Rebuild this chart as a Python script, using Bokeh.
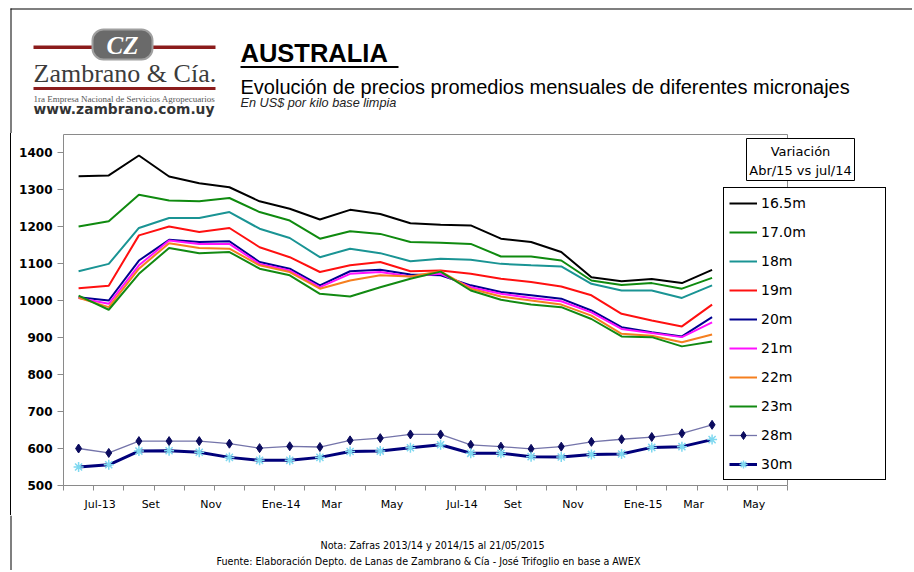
from bokeh.plotting import figure
from bokeh.layouts import row, column
from bokeh.models import (Range1d, FixedTicker, CustomJSTickFormatter, Label,
                          BoxAnnotation, Legend, LegendItem, Div)
from bokeh.embed import file_html
from bokeh.resources import INLINE

# ---------------- data ----------------
months = ["Jul-13", "Ago-13", "Set-13", "Oct-13", "Nov-13", "Dic-13", "Ene-14", "Feb-14",
          "Mar-14", "Abr-14", "May-14", "Jun-14", "Jul-14", "Ago-14", "Set-14", "Oct-14",
          "Nov-14", "Dic-14", "Ene-15", "Feb-15", "Mar-15", "Abr-15"]
tick_labels = ["Jul-13", "Set", "Nov", "Ene-14", "Mar", "May",
               "Jul-14", "Set", "Nov", "Ene-15", "Mar", "May"]
y_ticks = [500, 600, 700, 800, 900, 1000, 1100, 1200, 1300, 1400]

s16_5 = [1336, 1338, 1392, 1335, 1317, 1306, 1268, 1248, 1219, 1245, 1234,
         1209, 1205, 1203, 1167, 1158, 1131, 1063, 1052, 1058, 1047, 1083]
s17_0 = [1200, 1214, 1286, 1270, 1268, 1277, 1239, 1216, 1167, 1187, 1180,
         1158, 1156, 1153, 1119, 1119, 1108, 1054, 1042, 1047, 1032, 1061]
s18 = [1079, 1099, 1196, 1223, 1223, 1239, 1194, 1169, 1117, 1140, 1128,
       1106, 1113, 1110, 1099, 1095, 1092, 1045, 1027, 1027, 1007, 1041]
s19 = [1033, 1040, 1176, 1200, 1185, 1196, 1144, 1117, 1077, 1095, 1104,
       1079, 1081, 1072, 1059, 1050, 1038, 1014, 964, 946, 930, 989]
s20 = [1009, 1000, 1108, 1164, 1158, 1160, 1104, 1086, 1041, 1079, 1083,
       1070, 1068, 1041, 1023, 1014, 1005, 973, 928, 914, 903, 955]
s21 = [1007, 991, 1095, 1162, 1153, 1153, 1099, 1081, 1036, 1072, 1077,
       1065, 1072, 1036, 1018, 1007, 998, 968, 923, 912, 901, 941]
s22 = [1007, 982, 1086, 1155, 1142, 1140, 1095, 1077, 1032, 1054, 1068,
       1065, 1079, 1032, 1011, 1000, 989, 959, 910, 905, 887, 908]
s23 = [1013, 975, 1072, 1142, 1128, 1131, 1086, 1068, 1018, 1011, 1036,
       1059, 1078, 1027, 1002, 989, 982, 950, 903, 901, 876, 889]
s28 = [600, 588, 620, 620, 620, 613, 601, 606, 604, 622, 628,
       638, 638, 610, 605, 599, 605, 618, 625, 631, 641, 664]
s30 = [550, 556, 593, 594, 590, 576, 568, 568, 576, 592, 593,
       602, 610, 587, 587, 578, 577, 584, 585, 603, 605, 624]

names = ["16.5m", "17.0m", "18m", "19m", "20m", "21m", "22m", "23m", "28m", "30m"]
variation = ["-10.1%", "-8.1%", "-6.2%", "-8.4%", "-10.3%", "-12.1%", "-15.5%",
             "-17.3%", "+3.9%", "+2.6%"]

FONT = "DejaVu Sans"


def add_label(fig, x, y, text, **kw):
    opts = dict(x=x, y=y, text=text, text_font=FONT, text_font_size="12px",
                text_color="black", text_align="left", text_baseline="middle")
    opts.update(kw)
    fig.add_layout(Label(**opts))


def add_box(fig, l, r, t, b, **kw):
    opts = dict(left=l, right=r, top=t, bottom=b, fill_alpha=1, line_alpha=1,
                fill_color=None, line_color=None)
    opts.update(kw)
    fig.add_layout(BoxAnnotation(**opts))


def deco_fig(w, h, x0, x1, y0, y1):
    f = figure(width=w, height=h, output_backend="svg", toolbar_location=None,
               x_range=Range1d(x0, x1), y_range=Range1d(y1, y0),
               x_axis_location=None, y_axis_location=None, min_border=0)
    f.outline_line_color = None
    f.grid.visible = False
    f.background_fill_color = "white"
    f.border_fill_color = "white"
    return f


# ---------------- header (page x 0..912, y 0..133) ----------------
head = deco_fig(912, 133, 0, 912, 0, 133)
add_box(head, 10, 912, 8, 9, fill_color="black")
add_box(head, 10, 11, 8, 133, fill_color="black")
# logo
add_box(head, 33, 92, 45, 48.5, fill_color="#8b1c1c")
add_box(head, 152, 215, 45, 48.5, fill_color="#8b1c1c")
add_box(head, 92, 152, 29, 59, fill_color="#6a6a6a", line_color="#a0a0a0",
        line_width=2, border_radius=11)
add_label(head, 122, 44.5, "CZ", text_align="center", text_color="white",
          text_font="Liberation Serif", text_font_size="25px",
          text_font_style="bold italic")
add_label(head, 33, 72.7, "Zambrano & Cía.", text_font="Liberation Serif",
          text_font_size="26px", text_color="#3c3c3c")
add_box(head, 33, 215, 86.5, 89.5, fill_color="#8b1c1c")
add_label(head, 33, 98.5, "1ra Empresa Nacional de Servicios Agropecuarios",
          text_font="Liberation Serif", text_font_size="9px", text_color="#555555")
add_label(head, 33, 108.5, "www.zambrano.com.uy", text_font_size="13.8px",
          text_font_style="bold", text_color="#333333")
# titles
add_label(head, 240, 52.2, "AUSTRALIA", text_font="Liberation Sans",
          text_font_size="25.5px", text_font_style="bold")
add_box(head, 240, 398, 65.5, 67.5, fill_color="black")
add_label(head, 240, 86.0,
          "Evolución de precios promedios mensuales de diferentes micronajes",
          text_font="Liberation Sans", text_font_size="20px")
add_label(head, 240, 102.4, "En US$ por kilo base limpia",
          text_font="Liberation Sans", text_font_size="12.7px",
          text_font_style="italic", text_color="#222222")

# ---------------- left border strip beside the chart (page x 0..11) ----------------
strip = Div(text="", width=11, height=382, margin=(0, 0, 0, 0),
            styles={"border-right": "1px solid black", "box-sizing": "border-box",
                    "background": "white", "padding": "0px"})

# ---------------- main chart (page x 11..912, frame x 63..892, y 133..485) ----------------
PX_PER_CAT = 724 / 24.0
PX_PER_VAL = 0.37
x_end = -0.5 + (892 - 63) / PX_PER_CAT
y_end = 500 + (485 - 133) / PX_PER_VAL
main = figure(width=901, height=382, output_backend="svg", toolbar_location=None,
              x_range=Range1d(-0.5, x_end), y_range=Range1d(500, y_end),
              min_border_left=52, min_border_right=20,
              min_border_top=0, min_border_bottom=30)
main.extra_x_ranges = {"px": Range1d(63, 892)}
main.extra_y_ranges = {"py": Range1d(485, 133)}
main.background_fill_color = "white"
main.border_fill_color = "white"
main.outline_line_color = None
main.grid.visible = False

main.yaxis.ticker = FixedTicker(ticks=y_ticks)
main.yaxis.bounds = (500, 500 + (485 - 134) / PX_PER_VAL)
main.yaxis.major_label_text_font = FONT
main.yaxis.major_label_text_font_style = "bold"
main.yaxis.major_label_text_font_size = "12px"
main.yaxis.major_label_text_color = "black"
main.yaxis.major_tick_out = 6
main.yaxis.major_tick_in = 0
main.yaxis.major_label_standoff = 5
main.yaxis.axis_line_color = "#8a8a8a"
main.yaxis.major_tick_line_color = "#8a8a8a"
main.yaxis.minor_tick_line_color = None

# month labels start just right of their category centre
label_pos = [2 * k + (2 + len(t) * 3.25) / PX_PER_CAT for k, t in enumerate(tick_labels)]
main.xaxis.ticker = FixedTicker(ticks=label_pos,
                                minor_ticks=[k - 0.5 for k in range(25)])
main.xaxis.formatter = CustomJSTickFormatter(args=dict(labels=tick_labels),
                                             code="return labels[index]")
main.xaxis.bounds = (-0.5, 23.5)
main.xaxis.major_tick_line_color = None
main.xaxis.major_tick_out = 5
main.xaxis.major_tick_in = 0
main.xaxis.minor_tick_out = 5
main.xaxis.minor_tick_in = 0
main.xaxis.minor_tick_line_color = "#8a8a8a"
main.xaxis.axis_line_color = "#8a8a8a"
main.xaxis.major_label_standoff = 7
main.xaxis.major_label_text_font = FONT
main.xaxis.major_label_text_font_size = "11px"
main.xaxis.major_label_text_color = "black"

# plot-area border (top and right edges)
main.add_layout(BoxAnnotation(left=63, right=787, top=134, bottom=485,
                              x_range_name="px", y_range_name="py",
                              fill_color=None, line_color="#8a8a8a",
                              line_alpha=1, line_width=1))

xs = list(range(len(months)))
series = [s16_5, s17_0, s18, s19, s20, s21, s22, s23]
colors = ["black", "#0f8a0f", "#1a9494", "#ff1010", "#000090", "#ff10ff",
          "#f57f1f", "#128a12"]

items = []
for nm, s, c in zip(names[:8], series, colors):
    r = main.line(xs, s, line_color=c, line_width=2)
    items.append(LegendItem(label=nm, renderers=[r]))

r28 = main.line(xs, s28, line_color="#7474aa", line_width=1.3)
m28 = main.scatter(xs, s28, marker="diamond", size=9, fill_color="#0b0b5e",
                   line_color="#0b0b5e")
items.append(LegendItem(label="28m", renderers=[r28, m28]))
r30 = main.line(xs, s30, line_color="#00007a", line_width=3)
m30 = main.scatter(xs, s30, marker="asterisk", size=10, line_color="#7fd8f0",
                   line_width=1.5)
items.append(LegendItem(label="30m", renderers=[r30, m30]))

legend = Legend(items=items, location=(660, 5), margin=0, padding=5,
                spacing=9, glyph_width=28, glyph_height=20, label_height=20,
                label_width=119, label_standoff=4,
                label_text_font=FONT, label_text_font_size="14px",
                label_text_color="black",
                border_line_color="black", border_line_width=1,
                border_line_alpha=1, background_fill_color="white",
                background_fill_alpha=1)
main.add_layout(legend)

for k, v in enumerate(variation):
    add_label(main, 878, 203 + 29 * k, v, x_range_name="px", y_range_name="py",
              text_align="right", text_font_size="14px")

add_box(main, 746, 854, 138, 180, x_range_name="px", y_range_name="py",
        fill_color="white", line_color="black", line_width=1)
add_label(main, 800, 151, "Variación", x_range_name="px", y_range_name="py",
          text_align="center", text_font_size="13px")
add_label(main, 800, 170, "Abr/15 vs jul/14", x_range_name="px", y_range_name="py",
          text_align="center", text_font_size="13px")

# ---------------- footer (page x 0..912, y 515..570) ----------------
foot = deco_fig(912, 55, 0, 912, 515, 570)
add_box(foot, 10, 11, 515, 570, fill_color="black")
add_label(foot, 432, 545, "Nota: Zafras 2013/14 y 2014/15 al 21/05/2015",
          text_align="center", text_font_size="9.6px")
add_label(foot, 428, 561,
          "Fuente: Elaboración Depto. de Lanas de Zambrano & Cía - José Trifoglio en base a AWEX",
          text_align="center", text_font_size="9.6px")

layout = column(head, row(strip, main, spacing=0), foot, spacing=0)
open("out.html", "w").write(file_html(layout, INLINE))
